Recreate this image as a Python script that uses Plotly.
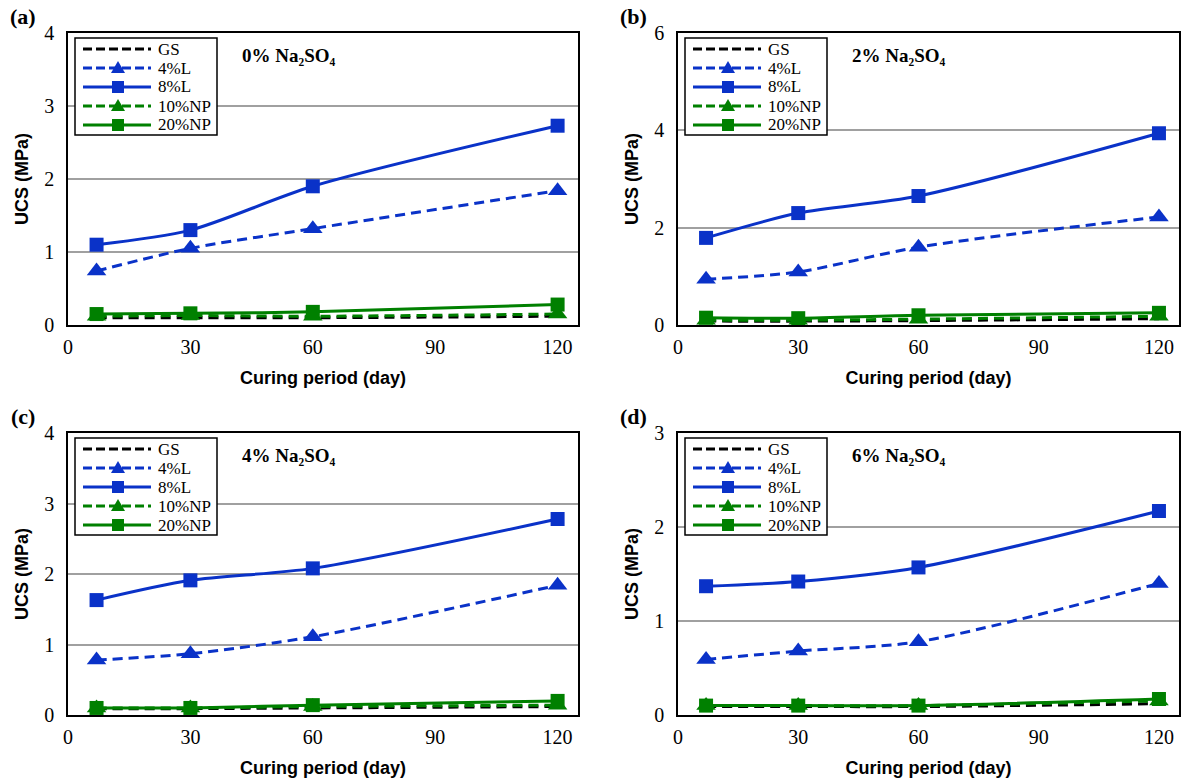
import plotly.graph_objects as go

days = [7, 30, 60, 120]
series_names = ["GS", "4%L", "8%L", "10%NP", "20%NP"]

# panel (a) 0% Na2SO4
a_GS = [0.10, 0.10, 0.10, 0.12]
a_4L = [0.74, 1.05, 1.32, 1.84]
a_8L = [1.10, 1.30, 1.90, 2.73]
a_10NP = [0.12, 0.13, 0.12, 0.15]
a_20NP = [0.15, 0.16, 0.18, 0.28]

# panel (b) 2% Na2SO4
b_GS = [0.08, 0.08, 0.09, 0.13]
b_4L = [0.94, 1.09, 1.60, 2.22]
b_8L = [1.79, 2.30, 2.65, 3.94]
b_10NP = [0.10, 0.10, 0.12, 0.18]
b_20NP = [0.15, 0.14, 0.20, 0.25]

# panel (c) 4% Na2SO4
c_GS = [0.09, 0.09, 0.10, 0.12]
c_4L = [0.78, 0.87, 1.11, 1.84]
c_8L = [1.63, 1.91, 2.08, 2.78]
c_10NP = [0.10, 0.10, 0.12, 0.14]
c_20NP = [0.10, 0.10, 0.14, 0.20]

# panel (d) 6% Na2SO4
d_GS = [0.09, 0.09, 0.09, 0.12]
d_4L = [0.59, 0.68, 0.78, 1.40]
d_8L = [1.37, 1.42, 1.57, 2.17]
d_10NP = [0.10, 0.10, 0.10, 0.15]
d_20NP = [0.10, 0.10, 0.10, 0.17]

panel_labels = ["(a)", "(b)", "(c)", "(d)"]
panel_titles = ["0% Na₂SO₄", "2% Na₂SO₄", "4% Na₂SO₄", "6% Na₂SO₄"]
y_max = [4, 6, 4, 3]
y_dtick = [1, 2, 1, 1]
x_ticks = [0, 30, 60, 90, 120]

panels = [
    [a_GS, a_4L, a_8L, a_10NP, a_20NP],
    [b_GS, b_4L, b_8L, b_10NP, b_20NP],
    [c_GS, c_4L, c_8L, c_10NP, c_20NP],
    [d_GS, d_4L, d_8L, d_10NP, d_20NP],
]

BLUE = "#0A32C8"
GREEN = "#008000"
DASH = "10px,6px"
styles = [
    dict(color="black", dash=DASH, symbol=None),
    dict(color=BLUE, dash=DASH, symbol="triangle-up"),
    dict(color=BLUE, dash="solid", symbol="square"),
    dict(color=GREEN, dash=DASH, symbol="triangle-up"),
    dict(color=GREEN, dash="solid", symbol="square"),
]

W, H = 1182, 784
# pixel boxes of plot areas (left, right, top, bottom)
boxes = [(68, 578, 33, 325), (678, 1179, 33, 325), (68, 578, 433, 715), (678, 1179, 433, 715)]

serif = "Liberation Serif"
sans = "Liberation Sans"


def px(x):
    return x / W


def py(y):
    return 1 - y / H


fig = go.Figure()

for i, data in enumerate(panels):
    xa = "x" if i == 0 else f"x{i+1}"
    ya = "y" if i == 0 else f"y{i+1}"
    for name, vals, st in zip(series_names, data, styles):
        mode = "lines" if st["symbol"] is None else "lines+markers"
        marker = dict(symbol=st["symbol"] or "circle", size=17 if st["symbol"] == "triangle-up" else 14,
                      color=st["color"], line=dict(width=0))
        fig.add_trace(go.Scatter(
            x=days, y=vals, name=name, mode=mode, xaxis=xa, yaxis=ya, showlegend=False,
            line=dict(color=st["color"], dash=st["dash"], width=3, shape="spline", smoothing=0.8),
            marker=marker,
        ))

layout = dict(
    width=W, height=H, margin=dict(l=0, r=0, t=0, b=0, autoexpand=False),
    paper_bgcolor="white", plot_bgcolor="white", showlegend=False,
)

annotations = []
shapes = []
for i in range(4):
    l, r, t, b = boxes[i]
    xk = "xaxis" if i == 0 else f"xaxis{i+1}"
    yk = "yaxis" if i == 0 else f"yaxis{i+1}"
    ya = "y" if i == 0 else f"y{i+1}"
    xa = "x" if i == 0 else f"x{i+1}"
    layout[xk] = dict(
        domain=[l / W, r / W], anchor=ya, range=[0, 125], tickvals=x_ticks,
        showline=True, linecolor="black", linewidth=1.5, mirror=True,
        showgrid=False, zeroline=False, ticks="", ticklen=0, ticklabelstandoff=3,
        tickfont=dict(family=serif, size=20, color="black"),
        title=dict(text="<b>Curing period (day)</b>", font=dict(family=sans, size=18, color="black"), standoff=15),
    )
    layout[yk] = dict(
        domain=[1 - b / H, 1 - t / H], anchor=xa, range=[0, y_max[i]], dtick=y_dtick[i],
        showline=True, linecolor="black", linewidth=1.5, mirror=True,
        showgrid=True, gridcolor="#A0A0A0", gridwidth=1.5, zeroline=False, ticks="", ticklen=0,
        ticklabelstandoff=8,
        tickfont=dict(family=serif, size=20, color="black"),
        title=dict(text="<b>UCS (MPa)</b>", font=dict(family=sans, size=18, color="black"), standoff=11),
    )
    # panel title annotation
    annotations.append(dict(
        text="<b>" + panel_titles[i] + "</b>", xref="paper", yref="paper",
        x=px(l + 221), y=py(t + 22), xanchor="center", yanchor="middle",
        showarrow=False, font=dict(family=serif, size=19, color="black"),
    ))
    # panel letter
    annotations.append(dict(
        text="<b>" + panel_labels[i] + "</b>", xref="paper", yref="paper",
        x=px(l - 45), y=py(t - 17), xanchor="center", yanchor="middle",
        showarrow=False, font=dict(family=serif, size=22, color="black"),
    ))

    # legend (drawn in the figure's paper space)
    bx0, bx1, by0, by1 = l + 7, l + 149, t + 5, t + 102
    shapes.append(dict(type="rect", xref="paper", yref="paper",
                       x0=px(bx0), x1=px(bx1), y0=py(by1), y1=py(by0),
                       line=dict(color="black", width=1.5), fillcolor="white", layer="above"))
    for k, (name, st) in enumerate(zip(series_names, styles)):
        yy = t + 16 + 19 * k
        lx0, lx1, mx = l + 15, l + 83, l + 50
        shapes.append(dict(type="line", xref="paper", yref="paper",
                           x0=px(lx0), x1=px(lx1), y0=py(yy), y1=py(yy),
                           line=dict(color=st["color"], width=3,
                                     dash="9px,4px" if st["dash"] != "solid" else "solid"),
                           layer="above"))
        if st["symbol"] == "square":
            s = 6
            shapes.append(dict(type="rect", xref="paper", yref="paper",
                               x0=px(mx - s), x1=px(mx + s), y0=py(yy + s), y1=py(yy - s),
                               line=dict(width=0), fillcolor=st["color"], layer="above"))
        elif st["symbol"] == "triangle-up":
            path = (f"M{px(mx - 7)},{py(yy + 5)} L{px(mx + 7)},{py(yy + 5)} "
                    f"L{px(mx)},{py(yy - 7)} Z")
            shapes.append(dict(type="path", xref="paper", yref="paper", path=path,
                               line=dict(width=0), fillcolor=st["color"], layer="above"))
        annotations.append(dict(
            text=name, xref="paper", yref="paper", x=px(l + 88), y=py(yy),
            xanchor="left", yanchor="middle", showarrow=False,
            font=dict(family=serif, size=17, color="black"),
        ))

layout["annotations"] = annotations
layout["shapes"] = shapes
fig.update_layout(**layout)
fig.write_html("out.html")
